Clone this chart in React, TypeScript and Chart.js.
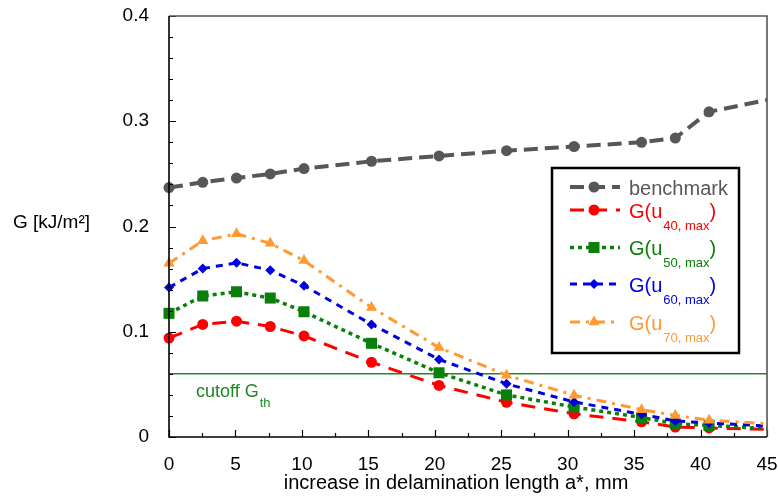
import React, { useEffect, useRef } from 'react';
import { Chart, registerables } from 'chart.js';

Chart.register(...registerables);

// ---- data ----
const delaminationMm = [0, 2.54, 5.08, 7.62, 10.16, 15.24, 20.32, 25.4, 30.48, 35.56, 38.1, 40.64, 45.72];
const benchmarkG = [0.237, 0.242, 0.246, 0.25, 0.255, 0.262, 0.267, 0.272, 0.276, 0.28, 0.284, 0.309, 0.322];
const gU40 = [0.094, 0.107, 0.11, 0.105, 0.096, 0.071, 0.049, 0.033, 0.022, 0.0145, 0.0095, 0.0086, 0.007];
const gU50 = [0.1175, 0.134, 0.138, 0.132, 0.119, 0.089, 0.061, 0.04, 0.0285, 0.0185, 0.0127, 0.011, 0.0075];
const gU60 = [0.142, 0.16, 0.1655, 0.1585, 0.1438, 0.107, 0.0737, 0.0505, 0.0333, 0.0215, 0.0153, 0.0133, 0.01];
const gU70 = [0.165, 0.1865, 0.193, 0.184, 0.1676, 0.123, 0.085, 0.0587, 0.0397, 0.026, 0.0205, 0.016, 0.012];
const cutoffG = 0.06;

const xTitle = 'increase in delamination length a*, mm';
const yTitle = 'G [kJ/m²]';
const cutoffLabel = 'cutoff G';
const cutoffSub = 'th';

const legendMain = ['benchmark', 'G(u', 'G(u', 'G(u', 'G(u'];
const legendSub = ['', '40, max', '50, max', '60, max', '70, max'];
const legendTail = ['', ')', ')', ')', ')'];

const xMin = 0, xMax = 45, xStep = 5, xMinor = 2.5;
const yMin = 0, yMax = 0.4, yStep = 0.1, yMinor = 0.02;

// ---- styles ----
const FONT = '"Liberation Sans", Helvetica, Arial, sans-serif';
const seriesValues = [benchmarkG, gU40, gU50, gU60, gU70];
const seriesColors = ['#575757', '#ff0000', '#0a800a', '#0000e0', '#ff9a33'];
const seriesDash = [[14, 7], [14, 9], [4, 4], [7, 6], [10, 6, 3, 6]];
const seriesWidth = [4, 3, 3.5, 3, 3];
const seriesMarker = ['circle', 'circle', 'rect', 'rectRot', 'triangle'];
const seriesRadius = [5.5, 5.5, 7.8, 5, 6.5];
const seriesOrder = [4, 3, 2, 1, 0];
const cutoffColor = '#1f8a1f';

function drawMarker(ctx: CanvasRenderingContext2D, style: string, x: number, y: number, r: number, color: string) {
  ctx.save();
  ctx.fillStyle = color;
  ctx.beginPath();
  if (style === 'circle') {
    ctx.arc(x, y, r, 0, Math.PI * 2);
  } else if (style === 'rect') {
    const s = r * Math.SQRT1_2;
    ctx.rect(x - s, y - s, 2 * s, 2 * s);
  } else if (style === 'rectRot') {
    ctx.moveTo(x - r, y);
    ctx.lineTo(x, y - r);
    ctx.lineTo(x + r, y);
    ctx.lineTo(x, y + r);
    ctx.closePath();
  } else if (style === 'triangle') {
    let rad = 0;
    ctx.moveTo(x + Math.sin(rad) * r, y - Math.cos(rad) * r);
    rad += (2 * Math.PI) / 3;
    ctx.lineTo(x + Math.sin(rad) * r, y - Math.cos(rad) * r);
    rad += (2 * Math.PI) / 3;
    ctx.lineTo(x + Math.sin(rad) * r, y - Math.cos(rad) * r);
    ctx.closePath();
  }
  ctx.fill();
  ctx.restore();
}

const framePlugin = {
  id: 'frameTicks',
  afterDatasetsDraw(chart: any) {
    const { ctx, chartArea: a, scales } = chart;
    const x = scales.x, y = scales.y;
    ctx.save();
    ctx.strokeStyle = '#000';
    ctx.lineWidth = 1.2;
    ctx.beginPath();
    for (let i = 0; xMin + i * xMinor <= xMax + 1e-9; i++) {
      const v = xMin + i * xMinor;
      const px = Math.round(x.getPixelForValue(v)) + 0.5;
      const major = Math.abs(v / xStep - Math.round(v / xStep)) < 1e-6;
      ctx.moveTo(px, a.bottom);
      ctx.lineTo(px, a.bottom - (major ? 7 : 4));
    }
    for (let i = 0; yMin + i * yMinor <= yMax + 1e-9; i++) {
      const v = yMin + i * yMinor;
      const py = Math.round(y.getPixelForValue(v)) + 0.5;
      const major = Math.abs(v / yStep - Math.round(v / yStep)) < 1e-6;
      ctx.moveTo(a.left, py);
      ctx.lineTo(a.left + (major ? 7 : 4), py);
    }
    ctx.stroke();
    // frame
    ctx.lineWidth = 1.6;
    ctx.strokeStyle = '#555';
    ctx.beginPath();
    ctx.moveTo(a.left, a.top);
    ctx.lineTo(a.right, a.top);
    ctx.lineTo(a.right, a.bottom);
    ctx.stroke();
    ctx.strokeStyle = '#000';
    ctx.beginPath();
    ctx.moveTo(a.left, a.top);
    ctx.lineTo(a.left, a.bottom);
    ctx.lineTo(a.right, a.bottom);
    ctx.stroke();

    // cutoff label
    const cy = y.getPixelForValue(cutoffG);
    const cx = x.getPixelForValue(xMin) + 27;
    ctx.fillStyle = cutoffColor;
    ctx.font = `18px ${FONT}`;
    ctx.textAlign = 'left';
    ctx.textBaseline = 'alphabetic';
    ctx.fillText(cutoffLabel, cx, cy + 23);
    const w = ctx.measureText(cutoffLabel).width;
    ctx.font = `13px ${FONT}`;
    ctx.fillText(cutoffSub, cx + w + 1, cy + 33);

    // axis titles
    ctx.fillStyle = '#000';
    ctx.font = `20px ${FONT}`;
    ctx.textAlign = 'center';
    ctx.textBaseline = 'middle';
    ctx.fillText(xTitle, 456, 483);
    ctx.font = `19px ${FONT}`;
    ctx.textAlign = 'left';
    ctx.fillText(yTitle, 13, 223);

    // legend
    const bx = 552, by = 168, bw = 187, bh = 185;
    ctx.fillStyle = '#fff';
    ctx.fillRect(bx, by, bw, bh);
    ctx.lineWidth = 2.5;
    ctx.strokeStyle = '#000';
    ctx.strokeRect(bx, by, bw, bh);
    const rowsY = [187, 210, 247.5, 284, 322];
    for (let i = 0; i < legendMain.length; i++) {
      const ry = rowsY[i];
      ctx.save();
      ctx.strokeStyle = seriesColors[i];
      ctx.lineWidth = seriesWidth[i];
      ctx.setLineDash(seriesDash[i]);
      ctx.beginPath();
      ctx.moveTo(570, ry);
      ctx.lineTo(620, ry);
      ctx.stroke();
      ctx.restore();
      drawMarker(ctx, seriesMarker[i], 594, ry, seriesRadius[i], seriesColors[i]);
      ctx.fillStyle = seriesColors[i];
      ctx.font = `20px ${FONT}`;
      ctx.textAlign = 'left';
      ctx.textBaseline = 'alphabetic';
      const tx = 629;
      ctx.fillText(legendMain[i], tx, ry + 7.5);
      if (legendSub[i]) {
        const mw = ctx.measureText(legendMain[i]).width;
        ctx.font = `13px ${FONT}`;
        ctx.fillText(legendSub[i], tx + mw + 1, ry + 19.5);
        const sw = ctx.measureText(legendSub[i]).width;
        ctx.font = `20px ${FONT}`;
        ctx.fillText(legendTail[i], tx + mw + sw + 1, ry + 7.5);
      }
    }
    ctx.restore();
  },
};

const zeroPad = (s: any) => {
  s.paddingLeft = 0;
  s.paddingRight = 0;
  s.paddingTop = 0;
  s.paddingBottom = 0;
};

export default function App() {
  const ref = useRef<HTMLCanvasElement | null>(null);
  useEffect(() => {
    document.body.style.margin = '0';
    if (!ref.current) return;
    const datasets: any[] = seriesValues.map((vals, i) => ({
      label: legendMain[i] + legendSub[i] + legendTail[i],
      data: delaminationMm.map((xv, j) => ({ x: xv, y: vals[j] })),
      borderColor: seriesColors[i],
      backgroundColor: seriesColors[i],
      borderWidth: seriesWidth[i],
      borderDash: seriesDash[i],
      pointStyle: seriesMarker[i],
      pointRadius: seriesRadius[i],
      pointBorderWidth: 0,
      pointBackgroundColor: seriesColors[i],
      tension: 0,
      order: seriesOrder[i],
      clip: { left: false, top: false, right: 0, bottom: false },
    }));
    datasets.push({
      label: 'cutoff',
      data: [{ x: xMin, y: cutoffG }, { x: xMax, y: cutoffG }],
      borderColor: cutoffColor,
      borderWidth: 1.5,
      pointRadius: 0,
      order: 10,
    });
    const chart = new Chart(ref.current, {
      type: 'line',
      data: { datasets },
      options: {
        animation: false,
        responsive: true,
        maintainAspectRatio: false,
        layout: { padding: { left: 0, top: 16, right: 11, bottom: 0 } },
        plugins: { legend: { display: false }, tooltip: { enabled: false } },
        scales: {
          x: {
            type: 'linear',
            min: xMin,
            max: xMax,
            grid: { display: false },
            border: { display: false },
            ticks: { stepSize: xStep, color: '#000', font: { family: FONT, size: 19 }, padding: 8, maxRotation: 0 },
            afterFit: (s: any) => { s.height = 61; zeroPad(s); },
          },
          y: {
            type: 'linear',
            min: yMin,
            max: yMax,
            grid: { display: false },
            border: { display: false },
            ticks: { stepSize: yStep, color: '#000', font: { family: FONT, size: 19 }, padding: 12 },
            afterFit: (s: any) => { s.width = 169; zeroPad(s); },
          },
        },
      },
      plugins: [framePlugin],
    });
    return () => chart.destroy();
  }, []);
  return (
    <div style={{ width: 778, height: 498, position: 'relative' }}>
      <canvas ref={ref} />
    </div>
  );
}
